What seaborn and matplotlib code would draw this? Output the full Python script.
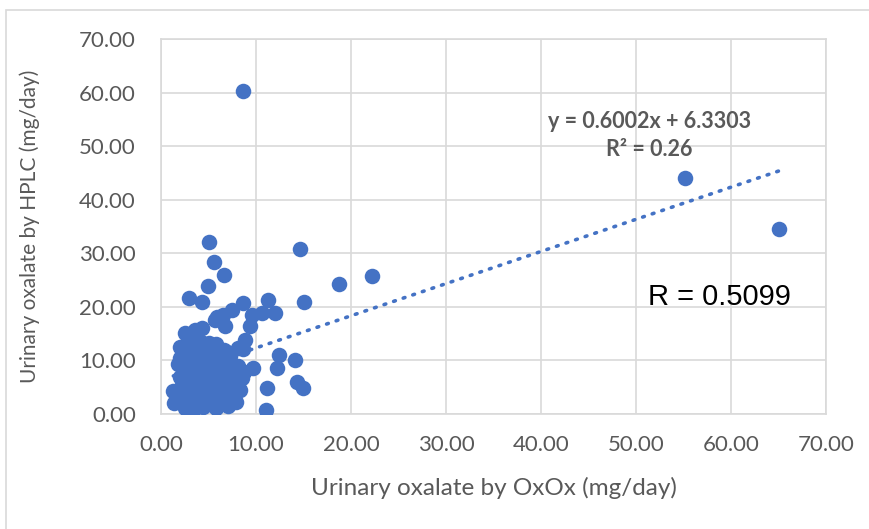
import numpy as np
import pandas as pd
import matplotlib
matplotlib.use("Agg")
import matplotlib.pyplot as plt
from matplotlib.patches import Rectangle
import seaborn as sns

# Paired urinary oxalate measurements (mg/day)
oxox = [8.6, 55.2, 65.0, 5.0, 14.6, 5.6, 6.6, 22.2, 18.7, 4.9,
        2.9, 4.3, 8.6, 11.3, 15.0, 12.0, 10.6, 9.6, 7.5, 6.5,
        5.9, 5.7, 6.7, 9.4, 4.3, 3.6, 2.7, 2.5, 8.8, 8.6,
        12.4, 14.1, 12.2, 9.7, 8.3, 11.2, 14.3, 14.9, 11.0, 7.6,
        2.8, 5.0, 8.1, 2.0, 1.8,
        1.3, 1.4, 2.0, 2.2, 2.3, 2.5, 2.6, 2.8, 2.9, 3.0,
        3.1, 3.2, 3.3, 3.4, 3.5, 3.6, 3.7, 3.8, 3.9, 4.0,
        4.1, 4.2, 4.3, 4.4, 4.5, 4.6, 4.7, 4.8, 4.9, 5.0,
        5.1, 5.2, 5.3, 5.4, 5.5, 5.6, 5.7, 5.8, 5.9, 6.0,
        6.1, 6.2, 6.3, 6.4, 6.5, 6.6, 6.7, 6.8, 6.9, 7.0,
        7.1, 7.2, 7.3, 7.4, 7.5, 7.7, 7.9, 8.1, 8.3, 8.5,
        8.7, 3.0, 4.2, 2.0, 5.8, 6.9]
hplc = [60.3, 44.0, 34.5, 32.1, 30.8, 28.4, 26.0, 25.8, 24.3, 23.9,
        21.6, 20.9, 20.8, 21.3, 20.9, 18.9, 18.8, 18.5, 19.4, 18.5,
        18.1, 17.5, 16.5, 16.4, 16.0, 15.7, 14.7, 15.1, 13.8, 12.1,
        11.1, 10.0, 8.6, 8.6, 8.2, 4.9, 6.0, 4.9, 0.8, 2.6,
        13.3, 13.3, 12.3, 10.5, 9.3,
        4.3, 2.0, 7.0, 5.5, 3.0, 1.2, 8.2, 6.0, 4.2, 11.5,
        2.2, 9.8, 7.2, 5.0, 1.0, 12.8, 3.5, 8.5, 6.3, 10.5,
        2.5, 4.5, 7.8, 1.3, 11.8, 5.8, 9.2, 3.2, 6.8, 1.8,
        10.2, 4.0, 8.0, 12.2, 2.8, 6.0, 9.5, 1.2, 4.8, 7.5,
        11.0, 3.5, 5.5, 8.8, 2.0, 12.0, 6.5, 4.2, 9.8, 1.5,
        7.2, 5.0, 10.8, 3.0, 8.2, 6.0, 2.2, 9.0, 4.5, 6.8,
        7.8, 14.0, 13.5, 12.5, 13.0, 11.5]

slope = 0.6002
intercept = 6.3303
r_squared = 0.26
r_value = 0.5099

tick_values = [0, 10, 20, 30, 40, 50, 60, 70]
tick_labels = [f"{v:.2f}" for v in tick_values]

df = pd.DataFrame({"oxox": oxox, "hplc": hplc})

sns.set_theme(style="white")
plt.rcParams["font.family"] = ["Lato", "DejaVu Sans"]

blue = "#4472C4"
grid_c = "#d9d9d9"
text_c = "#595959"

fig = plt.figure(figsize=(8.69, 5.29), dpi=100)
ax = fig.add_axes([161 / 869, 1 - 414 / 529, (826 - 161) / 869, (414 - 39) / 529])

# Outer frame of the chart area
fig.patches.append(Rectangle((6 / 869, -0.2), 2.0, 1.2 - 10 / 529,
                             transform=fig.transFigure, fill=False,
                             edgecolor=grid_c, linewidth=1.2, zorder=0))

# Linear trendline from the fitted equation
x_line = np.array([min(oxox), max(oxox)])
line_df = pd.DataFrame({"x": x_line, "y": slope * x_line + intercept})
sns.lineplot(data=line_df, x="x", y="y", ax=ax, color=blue,
             linewidth=2.6, linestyle=(0, (0.5, 2.3)), zorder=2)
ax.lines[-1].set_dash_capstyle("round")

sns.scatterplot(data=df, x="oxox", y="hplc", ax=ax, color=blue,
                s=125, linewidth=0, alpha=1, zorder=3)

ax.set_xlim(0, 70)
ax.set_ylim(0, 70)
ax.set_xticks(tick_values)
ax.set_xticklabels(tick_labels)
ax.set_yticks(tick_values)
ax.set_yticklabels(tick_labels)
ax.grid(True, color=grid_c, linewidth=1.2, zorder=0)
ax.set_axisbelow(True)
for sp in ax.spines.values():
    sp.set_color(grid_c)
    sp.set_linewidth(1.2)
ax.tick_params(axis="both", length=0, labelsize=16, colors=text_c)
ax.tick_params(axis="x", pad=15)
ax.tick_params(axis="y", pad=18)

ax.set_xlabel("Urinary oxalate by OxOx (mg/day)", fontsize=17.5,
              color=text_c, labelpad=16)
ax.set_ylabel("Urinary oxalate by HPLC (mg/day)", fontsize=15,
              color=text_c, labelpad=28)

ax.text(51.4, 52.0, f"y = {slope:.4f}x + {intercept:.4f}\nR² = {r_squared:.2f}",
        ha="center", va="center", fontsize=15.5, fontweight="bold",
        color=text_c, linespacing=1.45, zorder=4)
ax.text(51.3, 21.8, f"R = {r_value:.4f}", ha="left", va="center",
        fontsize=21, color="black", family=["Liberation Sans", "DejaVu Sans"],
        zorder=4)

fig.savefig("out.png", dpi=100, facecolor="white")
